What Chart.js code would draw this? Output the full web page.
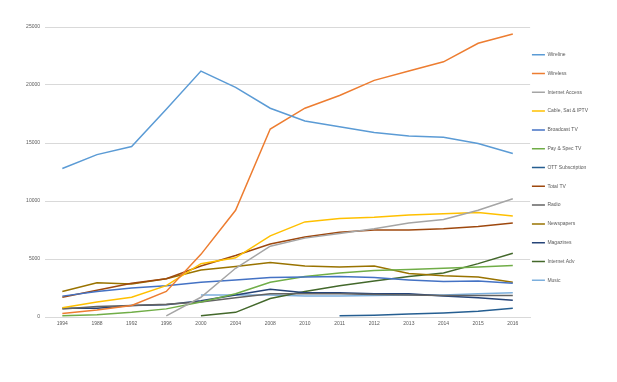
<!DOCTYPE html>
<html>
<head>
<meta charset="utf-8">
<script src="https://cdn.jsdelivr.net/npm/chart.js@4"></script>
<style>
  html, body { margin: 0; padding: 0; background: #fff; }
  #wrap { width: 617px; height: 382px; }
</style>
</head>
<body>
<div id="wrap"><canvas id="chart" width="617" height="382"></canvas></div>
<script>
const years = ['1994', '1988', '1992', '1996', '2000', '2004', '2008', '2010', '2011', '2012', '2013', '2014', '2015', '2016'];

const wireline = [12800, 14000, 14700, 17900, 21200, 19800, 18000, 16900, 16400, 15900, 15600, 15500, 14950, 14100];
const wireless = [300, 600, 1000, 2200, 5400, 9200, 16200, 18000, 19100, 20400, 21200, 22000, 23600, 24400];
const internetAccess = [null, null, null, 100, 1700, 4200, 6100, 6800, 7200, 7600, 8100, 8400, 9200, 10200];
const cableSatIptv = [800, 1300, 1700, 2700, 4600, 5100, 7000, 8200, 8500, 8600, 8800, 8900, 9000, 8700];
const broadcastTv = [1800, 2200, 2500, 2700, 3000, 3200, 3400, 3450, 3500, 3400, 3200, 3050, 3100, 2900];
const paySpecTv = [100, 200, 400, 700, 1300, 2000, 3000, 3500, 3800, 4000, 4100, 4200, 4300, 4450];
const ottSubscription = [null, null, null, null, null, null, null, null, 100, 150, 250, 350, 500, 750];
const totalTv = [1700, 2300, 2900, 3300, 4400, 5300, 6300, 6900, 7300, 7500, 7500, 7600, 7800, 8100];
const radio = [700, 900, 1000, 1100, 1300, 1650, 2000, 2000, 2000, 1950, 1900, 1850, 1850, 1850];
const newspapers = [2200, 2950, 2850, 3300, 4050, 4350, 4700, 4400, 4300, 4400, 3750, 3550, 3450, 3000];
const magazines = [750, 750, 1000, 1050, 1400, 1900, 2400, 2100, 2100, 2000, 2000, 1800, 1650, 1450];
const internetAdv = [null, null, null, null, 100, 400, 1600, 2200, 2700, 3100, 3500, 3800, 4600, 5500];
const music = [null, null, null, null, 1900, 1900, 1900, 1800, 1800, 1850, 1900, 1900, 2000, 2100];

const seriesNames = ['Wireline', 'Wireless', 'Internet Access', 'Cable, Sat & IPTV', 'Broadcast TV', 'Pay & Spec TV',
  'OTT Subscription', 'Total TV', 'Radio', 'Newspapers', 'Magazines', 'Internet Adv', 'Music'];
const seriesData = [wireline, wireless, internetAccess, cableSatIptv, broadcastTv, paySpecTv,
  ottSubscription, totalTv, radio, newspapers, magazines, internetAdv, music];
const seriesColors = ['#5B9BD5', '#ED7D31', '#A5A5A5', '#FFC000', '#4472C4', '#70AD47',
  '#255E91', '#9E480E', '#636363', '#997300', '#264478', '#43682B', '#7CAFDD'];

const yTicks = [0, 5000, 10000, 15000, 20000, 25000];

const datasets = seriesNames.map((name, i) => ({
  label: name,
  data: seriesData[i],
  borderColor: seriesColors[i],
  backgroundColor: seriesColors[i],
  borderWidth: 1.5,
  pointRadius: 0,
  tension: 0,
  fill: false,
}));

const tickFont = { family: 'Liberation Sans', size: 5 };

// nudge the legend closer to the plot and up a bit, like the original
const legendShift = {
  id: 'legendShift',
  afterLayout(chart) {
    const lg = chart.legend;
    lg.left -= 12;
    lg.right -= 12;
    lg.top -= 12;
    lg.bottom -= 12;
  },
};

new Chart(document.getElementById('chart'), {
  type: 'line',
  data: { labels: years, datasets },
  plugins: [legendShift],
  options: {
    responsive: false,
    animation: false,
    layout: { padding: { top: 27, bottom: 50, left: 0, right: 7 } },
    plugins: {
      legend: {
        position: 'right',
        align: 'center',
        labels: {
          usePointStyle: true,
          pointStyle: 'line',
          pointStyleWidth: 13,
          boxHeight: 5,
          padding: 13.8,
          color: '#595959',
          font: tickFont,
        },
      },
      tooltip: { enabled: false },
    },
    scales: {
      x: {
        offset: true,
        grid: { display: false, drawTicks: false },
        border: { display: true, color: '#D9D9D9' },
        ticks: { color: '#595959', font: tickFont, maxRotation: 0, autoSkip: false, padding: 4 },
        afterFit: (scale) => { scale.height = 15; },
      },
      y: {
        min: 0,
        max: 25000,
        afterBuildTicks: (scale) => { scale.ticks = yTicks.map((v) => ({ value: v })); },
        grid: { color: '#D9D9D9', drawTicks: false },
        border: { display: false },
        ticks: { color: '#595959', font: tickFont, padding: 5, callback: (v) => String(v) },
        afterFit: (scale) => { scale.width = 45; },
      },
    },
  },
});
</script>
</body>
</html>
